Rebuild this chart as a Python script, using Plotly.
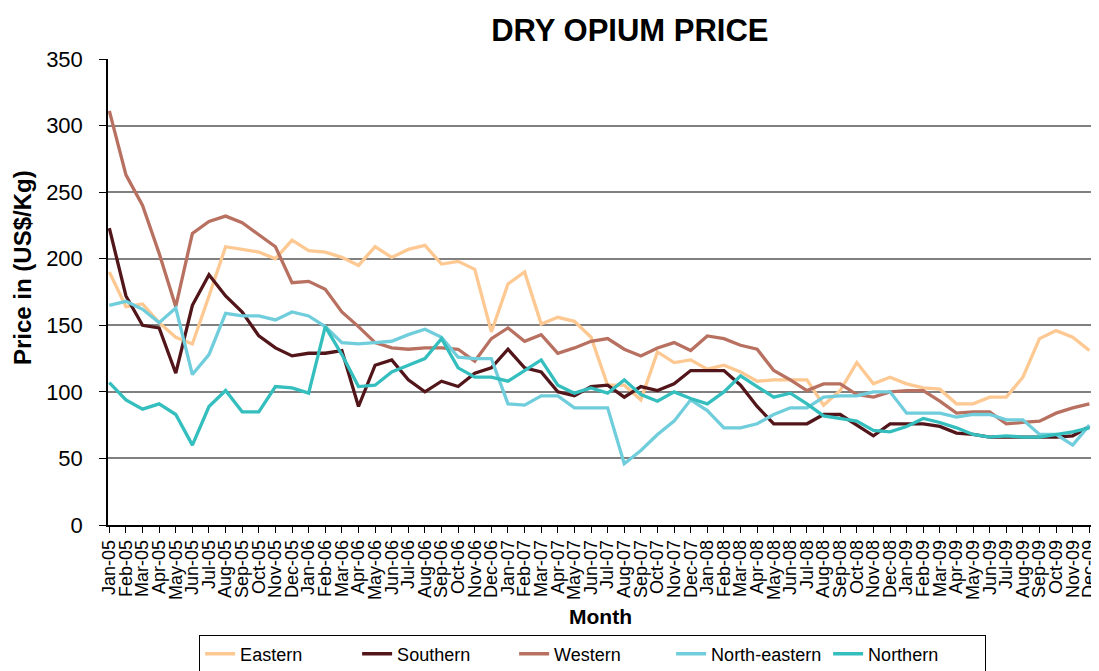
import plotly.graph_objects as go

months = ["Jan-05","Feb-05","Mar-05","Apr-05","May-05","Jun-05","Jul-05","Aug-05","Sep-05","Oct-05","Nov-05","Dec-05",
          "Jan-06","Feb-06","Mar-06","Apr-06","May-06","Jun-06","Jul-06","Aug-06","Sep-06","Oct-06","Nov-06","Dec-06",
          "Jan-07","Feb-07","Mar-07","Apr-07","May-07","Jun-07","Jul-07","Aug-07","Sep-07","Oct-07","Nov-07","Dec-07",
          "Jan-08","Feb-08","Mar-08","Apr-08","May-08","Jun-08","Jul-08","Aug-08","Sep-08","Oct-08","Nov-08","Dec-08",
          "Jan-09","Feb-09","Mar-09","Apr-09","May-09","Jun-09","Jul-09","Aug-09","Sep-09","Oct-09","Nov-09","Dec-09"]

eastern = [190,164,166,152,141,136,172,209,207,205,200,214,206,205,201,195,209,201,207,210,196,198,192,145,
           181,190,151,156,153,141,105,105,94,130,122,124,117,120,115,108,109,109,109,90,101,122,106,111,
           106,103,102,91,91,96,96,111,140,146,141,131]
southern = [223,172,150,148,114,165,188,172,160,142,133,127,129,129,131,89,120,124,109,100,108,104,114,118,
            132,118,115,100,97,104,105,96,104,101,106,116,116,116,105,89,76,76,76,83,83,75,67,76,
            76,76,74,69,68,66,66,66,66,66,67,74]
western = [311,263,240,204,164,219,228,232,227,218,209,182,183,177,160,149,137,133,132,133,133,132,123,140,
           148,138,143,129,133,138,140,132,127,133,137,131,142,140,135,132,116,109,101,106,106,98,96,100,
           101,101,93,84,85,85,76,77,78,84,88,91]
north_eastern = [165,168,162,152,163,113,128,159,157,157,154,160,157,149,137,136,137,138,143,147,141,126,125,125,
                 91,90,97,97,88,88,88,46,56,68,78,94,86,73,73,76,83,88,88,96,97,97,100,100,
                 84,84,84,81,83,83,79,79,68,68,60,75]
northern = [107,94,87,91,83,60,89,101,85,85,104,103,99,149,128,104,105,115,120,125,140,118,111,111,
            108,116,124,105,99,103,99,109,98,93,100,95,91,100,112,104,96,99,91,82,80,78,71,70,
            74,80,77,73,68,66,67,66,66,68,70,73]

series = [
    ("Eastern", eastern, "rgb(253,200,145)"),
    ("Southern", southern, "rgb(82,22,26)"),
    ("Western", western, "rgb(184,112,96)"),
    ("North-eastern", north_eastern, "rgb(112,205,219)"),
    ("Northern", northern, "rgb(52,190,190)"),
]

FONT = "Liberation Sans, Arial, sans-serif"

fig = go.Figure()
for name, vals, col in series:
    fig.add_trace(go.Scatter(x=months, y=vals, name=name, mode="lines",
                             line=dict(color=col, width=3.3)))

# page body has an 8px margin, so the figure is sized/positioned to compensate
fig.update_layout(
    width=1091, height=663,
    paper_bgcolor="white", plot_bgcolor="white",
    margin=dict(l=100, r=6, t=51, b=146),
    font=dict(family=FONT, color="black"),
    title=dict(text="<b>DRY OPIUM PRICE</b>", x=0.570, xanchor="center",
               y=0.967, yanchor="middle", font=dict(size=31, family=FONT, color="black")),
    showlegend=True,
    legend=dict(orientation="h", x=0.492, xanchor="center", xref="paper",
                y=0.055, yanchor="top", yref="container",
                bordercolor="black", borderwidth=1, font=dict(size=18, family=FONT),
                itemwidth=30, entrywidth=112, entrywidthmode="pixels", tracegroupgap=0),
    xaxis=dict(type="category", tickmode="array", tickvals=months, ticktext=months,
               tickangle=-90, tickfont=dict(size=18, family=FONT), automargin=False,
               showline=True, linecolor="black", linewidth=1.5,
               ticks="outside", ticklen=6, tickcolor="black",
               showgrid=False, range=[-0.08, 59.22],
               title=dict(text="<b>Month</b>", font=dict(size=21, family=FONT), standoff=10)),
    yaxis=dict(range=[0, 350], dtick=50, tickfont=dict(size=22, family=FONT), automargin=False,
               showline=True, linecolor="black", linewidth=1.5,
               ticks="outside", ticklen=7, tickcolor="black", ticklabelstandoff=12,
               showgrid=True, gridcolor="rgb(128,128,128)", gridwidth=1.5,
               zeroline=False),
    annotations=[dict(text="<b>Price in (US$/Kg)</b>", textangle=-90, xref="paper", yref="paper",
                      x=-0.0873, y=0.5515, xanchor="center", yanchor="middle", showarrow=False,
                      font=dict(size=24, family=FONT, color="black"))],
)

fig.write_html("out.html")
